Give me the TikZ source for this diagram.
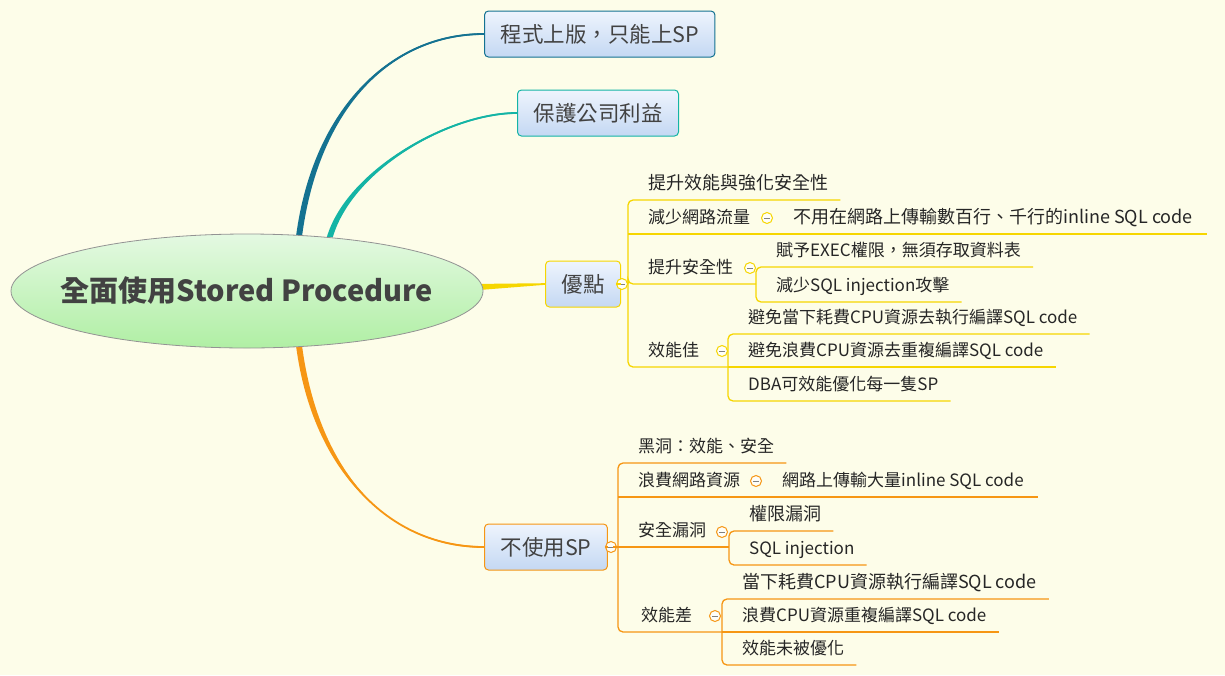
\documentclass[tikz,border=0pt]{standalone}
\usepackage{fontspec}
\setmainfont{Noto Sans CJK TC}
\usetikzlibrary{calc,shapes.geometric}
\definecolor{bgcream}{RGB}{253,253,233}
\definecolor{tealA}{RGB}{20,114,145}
\definecolor{tealB}{RGB}{20,180,165}
\definecolor{ylw}{RGB}{246,214,0}
\definecolor{org}{RGB}{246,150,20}
\definecolor{boxtop}{RGB}{238,244,253}
\definecolor{boxbot}{RGB}{196,216,243}
\definecolor{coretop}{RGB}{228,249,226}
\definecolor{corebot}{RGB}{176,239,164}
\definecolor{txt}{RGB}{66,66,66}
\pgfdeclarelayer{back}
\pgfdeclarelayer{links}
\pgfsetlayers{back,links,main}
\tikzset{
  core/.style={ellipse, draw=gray!85, line width=0.8pt, top color=coretop, bottom color=corebot,
    minimum width=472pt, minimum height=114pt, inner sep=0pt},
  corelbl/.style={font=\fontsize{29}{33}\selectfont\bfseries, text=txt},
  topic/.style={rectangle, rounded corners=4pt, line width=1pt, top color=boxtop, bottom color=boxbot,
    minimum height=46pt, inner xsep=16pt, anchor=west, font=\fontsize{21.5}{24}\selectfont, text=txt},
  leaf/.style={anchor=south west, inner xsep=0pt, inner ysep=6pt, text height=13pt, text depth=4pt,
    font=\fontsize{17}{20}\selectfont, text=black!85},
  wideleaf/.style={leaf, font=\fontsize{18}{21}\selectfont},
  fold/.style={circle, draw=#1, fill=white!70!bgcream, line width=1pt, minimum size=11pt, inner sep=0pt,
    path picture={\draw[gray, line width=1pt] ([xshift=2.5pt]path picture bounding box.west)
      -- ([xshift=-2.5pt]path picture bounding box.east);}},
  branch/.style={line width=1.3pt, rounded corners=5pt},
  trunk/.style={line width=1.8pt},
}
\newcommand{\kidsbar}[3]{% colour, first child, last child
  \draw[branch, #1] ($(#2.south east)+(12,0)$) -- ($(#2.south west)+(-20,0)$)
    -- ($(#3.south west)+(-20,0)$) -- ($(#3.south east)+(12,0)$);
}
\newcommand{\underln}[2]{%
  \draw[branch, #1] ($(#2.south west)+(-20,0)$) -- ($(#2.south east)+(12,0)$);
}

\begin{document}
\begin{tikzpicture}[x=1pt,y=-1pt]
  \begin{pgfonlayer}{back}
    \fill[bgcream] (0,0) rectangle (1225,675);
  \end{pgfonlayer}
  \useasboundingbox (0,0) rectangle (1225,675);

  \node[core, label={[corelbl]center:全面使用Stored Procedure}] (core) at (247,291) {};

  % main topics
  \node[topic, draw=tealA] (sp) at (484,34) {程式上版，只能上SP};
  \node[topic, draw=tealB] (gain) at (517,113) {保護公司利益};
  \node[topic, draw=ylw] (pro) at (545,284) {優點};
  \node[topic, draw=org] (con) at (484,547) {不使用SP};
  \node[fold=ylw] (fpro) at (622,284) {};
  \node[fold=org] (fcon) at (611,547) {};

  % tapered links from the centre
  \begin{pgfonlayer}{links}
    \fill[tealA] ($(core.47)+(-3,0)$) .. controls +(17,-126) and +(-94,0) .. ($(sp.west)+(0,-0.8)$)
      -- ($(sp.west)+(0,0.8)$) .. controls +(-94,0) and +(17,-126) .. ($(core.47)+(3,0)$) -- cycle;
    \draw[trunk, tealA] (core.47) .. controls +(17,-126) and +(-94,0) .. (sp.west);
    \fill[tealB] ($(core.33)+(-3,0)$) .. controls +(20,-68) and +(-67,0) .. ($(gain.west)+(0,-0.8)$)
      -- ($(gain.west)+(0,0.8)$) .. controls +(-67,0) and +(20,-68) .. ($(core.33)+(3,0)$) -- cycle;
    \draw[trunk, tealB] (core.33) .. controls +(20,-68) and +(-67,0) .. (gain.west);
    \fill[ylw] ($(core.1)+(-2,-3)$) -- ($(pro.west)+(0,-0.8)$) -- ($(pro.west)+(0,0.8)$)
      -- ($(core.1)+(-2,3)$) -- cycle;
    \fill[org] ($(core.-47)+(-3,0)$) .. controls +(17,126) and +(-94,0) .. ($(con.west)+(0,-0.8)$)
      -- ($(con.west)+(0,0.8)$) .. controls +(-94,0) and +(17,126) .. ($(core.-47)+(3,0)$) -- cycle;
    \draw[trunk, org] (core.-47) .. controls +(17,126) and +(-94,0) .. (con.west);
  \end{pgfonlayer}

  % advantages
  \node[wideleaf] (a1) at (648,200) {提升效能與強化安全性};
  \node[leaf] (a2) at (648,234) {減少網路流量};
  \node[leaf] (a3) at (648,284) {提升安全性};
  \node[leaf] (a4) at (648,367) {效能佳};
  \node[wideleaf] (a21) at (793,234) {不用在網路上傳輸數百行、千行的inline SQL code};
  \node[leaf] (a31) at (776,267) {賦予EXEC權限，無須存取資料表};
  \node[leaf] (a32) at (776,302) {減少SQL injection攻擊};
  \node[leaf] (a41) at (748,334) {避免當下耗費CPU資源去執行編譯SQL code};
  \node[leaf] (a42) at (748,367) {避免浪費CPU資源去重複編譯SQL code};
  \node[leaf] (a43) at (748,401) {DBA可效能優化每一隻SP};
  \draw[branch, ylw] ($(a1.south east)+(12,0)$) -- ($(a1.south west)+(-20,0)$)
    -- ($(a4.south west)+(-20,0)$) -- ($(a42.south west)+(-20,0)$);
  \draw[branch, ylw] (pro.east) -- (fpro.west);
  \draw[branch, ylw] (fpro.east) -- ($(a3.south west)+(-20,0)$) -- ($(a31.south west |- a3.south)+(-20,0)$);
  \draw[branch, ylw] ($(a2.south west)+(-20,0)$) -- ($(a21.south east)+(14,0)$);
  \kidsbar{ylw}{a31}{a32}
  \kidsbar{ylw}{a41}{a43}
  \underln{ylw}{a42}
  \node[fold=ylw] (fa2) at (767,218) {};
  \node[fold=ylw] (fa3) at (750,268) {};
  \node[fold=ylw] (fa4) at (722,351) {};

  % without SP
  \node[leaf] (b1) at (638,463) {黑洞：效能、安全};
  \node[leaf] (b2) at (638,497) {浪費網路資源};
  \node[leaf] (b3) at (638,547) {安全漏洞};
  \node[leaf] (b4) at (641,632) {效能差};
  \node[leaf] (b21) at (782,497) {網路上傳輸大量inline SQL code};
  \node[wideleaf] (b31) at (749,531) {權限漏洞};
  \node[leaf] (b32) at (749,565) {SQL injection};
  \node[wideleaf] (b41) at (742,599) {當下耗費CPU資源執行編譯SQL code};
  \node[leaf] (b42) at (742,632) {浪費CPU資源重複編譯SQL code};
  \node[leaf] (b43) at (742,665) {效能未被優化};
  \draw[branch, org] ($(b1.south east)+(12,0)$) -- ($(b1.south west)+(-20,0)$)
    -- ($(b1.south west |- b4.south)+(-20,0)$) -- ($(b42.south west)+(-20,0)$);
  \draw[branch, org] (con.east) -- (fcon.west);
  \draw[branch, org] (fcon.east) -- ($(b3.south west)+(-20,0)$) -- ($(b31.south west |- b3.south)+(-20,0)$);
  \draw[branch, org] ($(b2.south west)+(-20,0)$) -- ($(b21.south east)+(14,0)$);
  \kidsbar{org}{b31}{b32}
  \kidsbar{org}{b41}{b43}
  \underln{org}{b42}
  \node[fold=org] (fb2) at (756,481) {};
  \node[fold=org] (fb3) at (722,532) {};
  \node[fold=org] (fb4) at (715,616) {};
\end{tikzpicture}
\end{document}
